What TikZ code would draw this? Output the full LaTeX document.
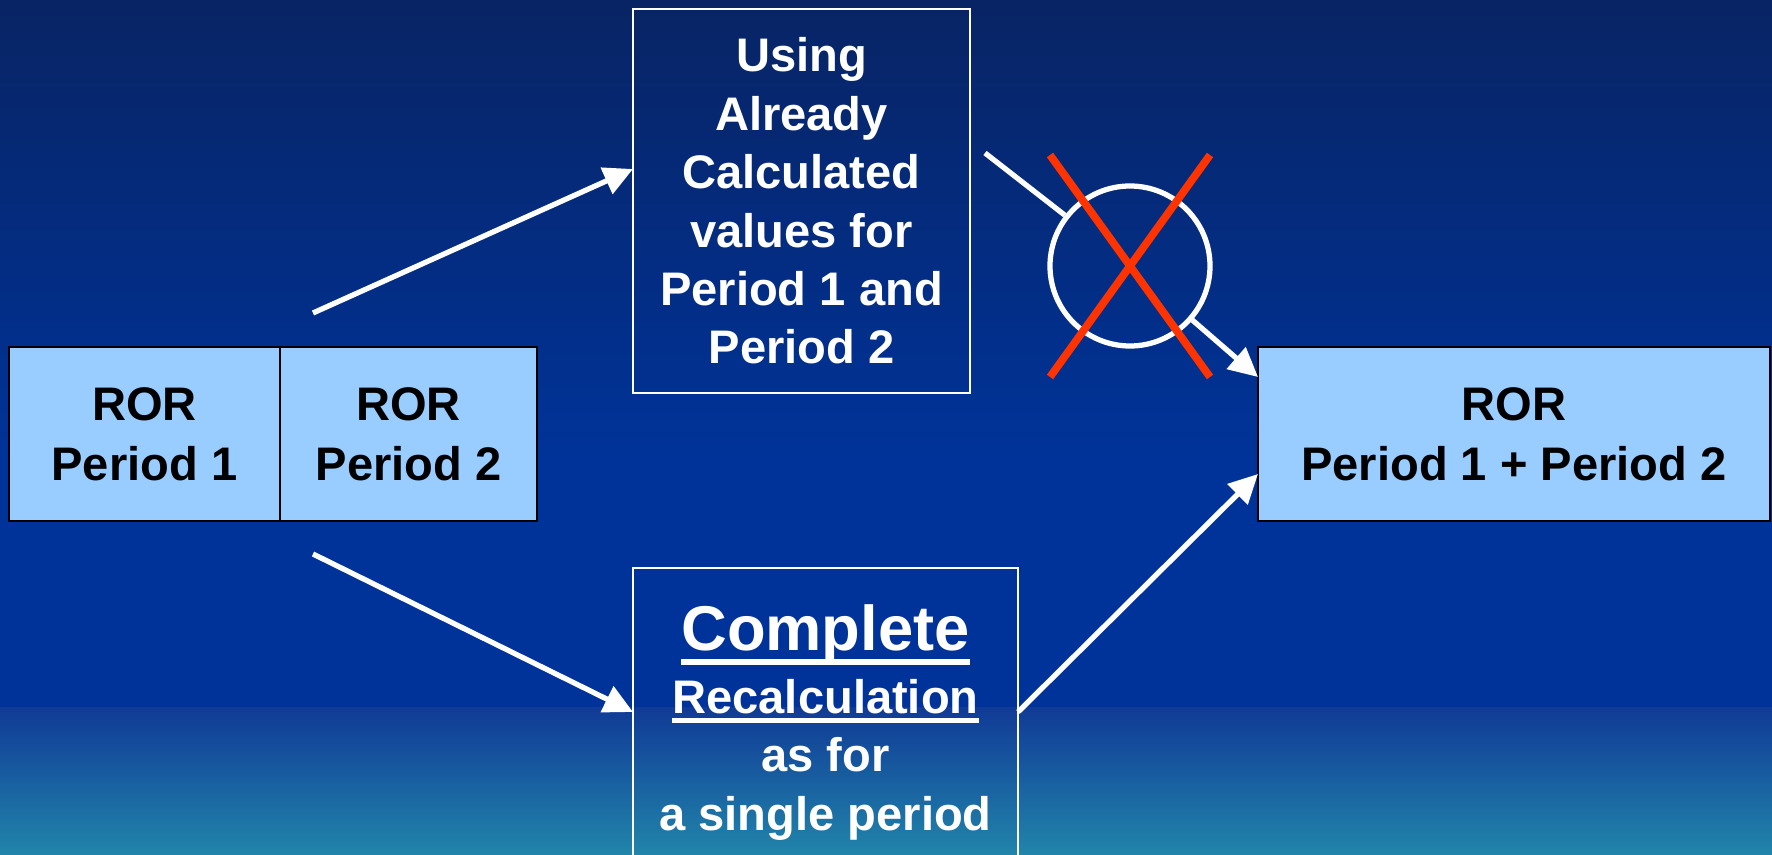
\documentclass[tikz,border=0pt]{standalone}
\usepackage{fontspec}
\setmainfont{Liberation Sans}
\usetikzlibrary{positioning,arrows.meta}

\definecolor{bgtop}{RGB}{8,36,100}
\definecolor{bgmid}{RGB}{0,51,153}
\definecolor{bglow}{RGB}{16,58,150}
\definecolor{bgend}{RGB}{33,133,170}
\definecolor{rorfill}{RGB}{153,204,255}
\definecolor{nogored}{RGB}{255,51,0}

\newcommand{\rorfont}{\fontsize{13.4}{17}\selectfont\bfseries}
\newcommand{\calcfont}{\fontsize{13.4}{16.6}\selectfont\bfseries}
\newcommand{\ulbar}[3]{\setbox0=\hbox{#3}\rlap{\rule[-#1]{\wd0}{#2}}\box0}

\begin{document}
\begin{tikzpicture}[
    rorbox/.style={draw=black, line width=0.6pt, fill=rorfill, text=black,
      minimum height=1.74cm, inner sep=0pt, outer sep=0pt, align=center, font=\rorfont},
    calcbox/.style={draw=white, line width=0.6pt, text=white,
      inner sep=0pt, outer sep=0pt, align=center, font=\calcfont},
    flow/.style={white, line width=1.5pt, -{Triangle[length=0.29cm,width=0.28cm]}},
    wire/.style={white, line width=1.5pt}
  ]
    \def\W{17.72}
    \def\H{8.55}

    % background
    \shade[top color=bgtop, bottom color=bgmid] (0,0) rectangle (\W,-4.6);
    \fill[bgmid] (0,-4.6) rectangle (\W,-7.07);
    \shade[top color=bglow, bottom color=bgend] (0,-7.07) rectangle (\W,-\H);
    \useasboundingbox (0,0) rectangle (\W,-\H);
    \clip (0,0) rectangle (\W,-\H);

    \node[rorbox, minimum width=2.71cm] (p1) at (1.445,-4.34) {ROR\\Period 1};
    \node[rorbox, minimum width=2.57cm, right=0pt of p1] (p2) {ROR\\Period 2};
    \node[rorbox, minimum width=5.12cm] (sum) at (15.14,-4.34) {ROR\\Period 1 + Period 2};

    \node[calcbox, minimum width=3.37cm, minimum height=3.84cm] (reuse) at (8.015,-2.01)
      {Using\\Already\\Calculated\\values for\\Period 1 and\\Period 2};
    \node[calcbox, minimum width=3.85cm, inner ysep=0.37cm, anchor=north] (redo) at (8.255,-5.68)
      {{\fontsize{18}{20}\selectfont\ulbar{4pt}{1.7pt}{Complete}}\\[1.2pt]
       \ulbar{2.85pt}{1.4pt}{Recalculation}\\as for\\a single period};

    \node[circle, draw=white, line width=1.5pt, minimum size=1.6cm, inner sep=0pt] (nogo) at (11.30,-2.66) {};

    \coordinate (s1) at (3.13,-3.13);
    \coordinate (s2) at (3.13,-5.54);
    \coordinate (s3) at (9.85,-1.53);

    \draw[flow] (s1) -- ([yshift=-1.60cm]reuse.north west);
    \draw[flow] (s2) -- ([yshift=-1.44cm]redo.north west);
    \draw[flow] ([yshift=-1.44cm]redo.north east) -- ([yshift=-1.27cm]sum.north west);
    \draw[wire] (s3) -- (nogo);
    \draw[flow] (nogo) -- ([yshift=-0.30cm]sum.north west);

    % crossed out
    \draw[nogored, line width=2.2pt] ([shift={(-0.8,1.11)}]nogo.center) -- ([shift={(0.8,-1.11)}]nogo.center);
    \draw[nogored, line width=2.2pt] ([shift={(0.8,1.11)}]nogo.center) -- ([shift={(-0.8,-1.11)}]nogo.center);
  \end{tikzpicture}
\end{document}
